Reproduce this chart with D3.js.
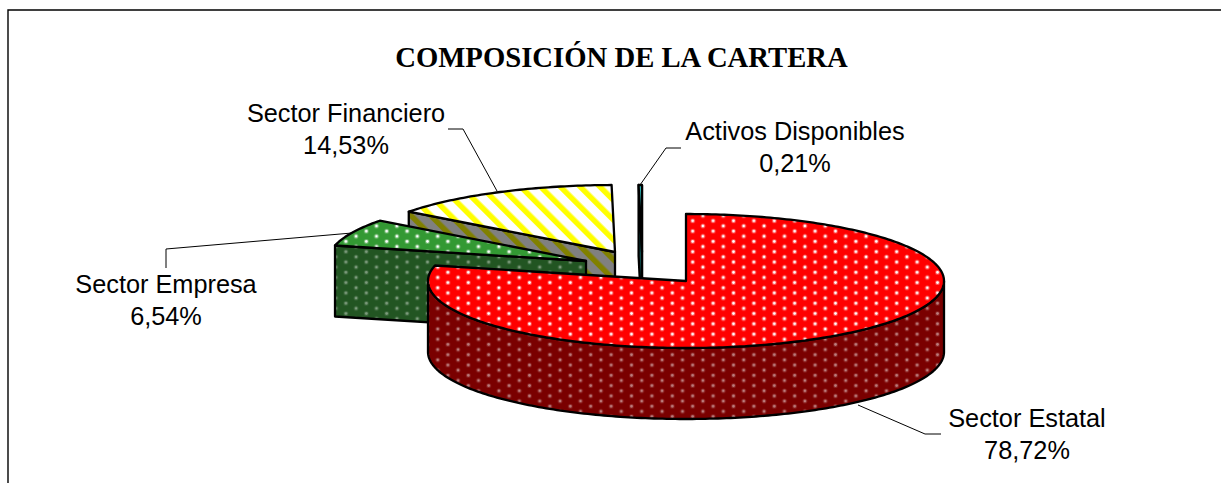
<!DOCTYPE html>
<html>
<head>
<meta charset="utf-8">
<script src="https://cdn.jsdelivr.net/npm/d3@7"></script>
<style>
    html, body { margin: 0; padding: 0; background: #fff; overflow: hidden; }
    text { fill: #000; text-anchor: middle; }
</style>
</head>
<body>
<svg id="chart" width="1221" height="483"></svg>
<script>
const categories = ["Sector Estatal", "Sector Empresa", "Sector Financiero", "Activos Disponibles"];
const shares = [78.72, 6.54, 14.53, 0.21];
const titleText = "COMPOSICIÓN DE LA CARTERA";

const svg = d3.select("#chart");
const defs = svg.append("defs");

// pie sits on a tilted disc: center + radii of the ellipse, then wall height
const cx = 686, cy = 281, rx = 258, ry = 67, depth = 71;
// how far each slice is pulled out of the pie, in pixels
const explode = [[0, 0], [-100, -20], [-71, -29], [-44, -29]];

const xScale = d3.scaleLinear().domain([-1, 1]).range([cx - rx, cx + rx]);
const yScale = d3.scaleLinear().domain([-1, 1]).range([cy - ry, cy + ry]);

const pie = d3.pie().sort(null).startAngle(0).endAngle(2 * Math.PI);
const arcs = pie(shares);
const percent = d3.formatLocale({decimal: ",", thousands: ".", grouping: [3], currency: ["", ""]}).format(".2f");

function rimPoint(angle, off, drop) {
    return [xScale(Math.sin(angle)) + off[0], yScale(-Math.cos(angle)) + off[1] + (drop || 0)];
}

function rimPoints(a0, a1, off, drop) {
    const n = Math.max(2, Math.ceil((a1 - a0) * 60));
    return d3.range(n + 1).map(i => rimPoint(a0 + (a1 - a0) * i / n, off, drop));
}

const line = d3.line();

function dotPattern(id, bg, dotAlpha) {
    const p = defs.append("pattern")
        .attr("id", id)
        .attr("patternUnits", "userSpaceOnUse")
        .attr("x", 723.3).attr("y", 226)
        .attr("width", 20.4).attr("height", 10.3);
    p.append("rect").attr("width", 20.4).attr("height", 10.3).attr("fill", bg);
    [[0, 0], [20.4, 0], [0, 10.3], [20.4, 10.3], [10.2, 5.15]].forEach(d => {
        p.append("circle").attr("cx", d[0]).attr("cy", d[1]).attr("r", 2.4)
            .attr("fill", "#fff").attr("opacity", dotAlpha * 0.3);
        p.append("circle").attr("cx", d[0]).attr("cy", d[1]).attr("r", 1.4)
            .attr("fill", "#fff").attr("opacity", dotAlpha);
    });
}

function stripePattern(id, bg, stripe) {
    const p = defs.append("pattern")
        .attr("id", id)
        .attr("patternUnits", "userSpaceOnUse")
        .attr("width", 14).attr("height", 14)
        .attr("patternTransform", "translate(540 190) rotate(-45)");
    p.append("rect").attr("width", 14).attr("height", 14).attr("fill", bg);
    p.append("rect").attr("width", 5.5).attr("height", 14).attr("fill", stripe);
}

dotPattern("redTop", "#ff0000", 1);
dotPattern("redWall", "#7a0000", 0.42);
dotPattern("greenTop", "#339933", 1);
dotPattern("greenWall", "#225522", 0.35);
stripePattern("yellowTop", "#ffffff", "#ffff00");
stripePattern("yellowWall", "#808080", "#808000");

const topFill = ["url(#redTop)", "url(#greenTop)", "url(#yellowTop)", "#33cccc"];
const wallFill = ["url(#redWall)", "url(#greenWall)", "url(#yellowWall)", "#116666"];
const strokeW = 2.3;

function drawSlice(i) {
    const d = arcs[i], off = explode[i];
    const g = svg.append("g").attr("class", "slice");
    const apex = [cx + off[0], cy + off[1]];
    const apexLow = [apex[0], apex[1] + depth];

    // cut wall on the side of the slice that faces the viewer
    if (i > 0) {
        const a = rimPoint(d.startAngle, off);
        const b = rimPoint(d.startAngle, off, depth);
        g.append("path")
            .attr("d", line([a, apex, apexLow, b]) + "Z")
            .attr("fill", wallFill[i]).attr("stroke", "#000").attr("stroke-width", strokeW)
            .attr("stroke-linejoin", "round");
    }
    if (i === 3) {
        const a = rimPoint(d.endAngle, off);
        const b = rimPoint(d.endAngle, off, depth);
        g.append("path")
            .attr("d", line([a, apex, apexLow, b]) + "Z")
            .attr("fill", wallFill[i]).attr("stroke", "#000").attr("stroke-width", strokeW);
    }

    // outer wall, only the front half of the rim shows
    const f0 = Math.max(d.startAngle, Math.PI / 2), f1 = Math.min(d.endAngle, 3 * Math.PI / 2);
    if (f1 > f0) {
        const upper = rimPoints(f0, f1, off);
        const lower = rimPoints(f0, f1, off, depth).reverse();
        g.append("path")
            .attr("d", line(upper.concat(lower)) + "Z")
            .attr("fill", wallFill[i]).attr("stroke", "#000").attr("stroke-width", strokeW);
    }

    // top face
    g.append("path")
        .attr("d", line([apex].concat(rimPoints(d.startAngle, d.endAngle, off))) + "Z")
        .attr("fill", topFill[i]).attr("stroke", "#000").attr("stroke-width", strokeW)
        .attr("stroke-linejoin", "round");
}

// frame: left and top edges only, the rest is cropped away
svg.append("path")
    .attr("d", "M8,483V10H1221")
    .attr("fill", "none").attr("stroke", "#000").attr("stroke-width", 1.4);

svg.append("text")
    .attr("x", 621.5).attr("y", 66.5)
    .attr("font-family", "'Liberation Serif'")
    .attr("font-weight", "bold")
    .attr("font-size", 28.7)
    .text(titleText);

// back to front
[2, 3, 1, 0].forEach(drawSlice);

const leaders = [
    [[858, 405], [925, 434], [941, 434]],
    [[352, 233], [166, 249], [166, 268]],
    [[497, 191], [463, 129], [448, 129]],
    [[640, 185], [666, 148], [681, 148]]
];
svg.selectAll("path.leader").data(leaders).join("path")
    .attr("class", "leader")
    .attr("d", line)
    .attr("fill", "none").attr("stroke", "#000").attr("stroke-width", 1);

const labelPos = [[1027, 427], [166, 293], [346, 122], [795, 140]];
categories.forEach((name, i) => {
    const t = svg.append("text")
        .attr("font-family", "'Liberation Sans'")
        .attr("font-size", 25.3);
    t.append("tspan").attr("x", labelPos[i][0]).attr("y", labelPos[i][1]).text(name);
    t.append("tspan").attr("x", labelPos[i][0]).attr("y", labelPos[i][1] + 31.5).text(percent(shares[i]) + "%");
});
</script>
</body>
</html>
